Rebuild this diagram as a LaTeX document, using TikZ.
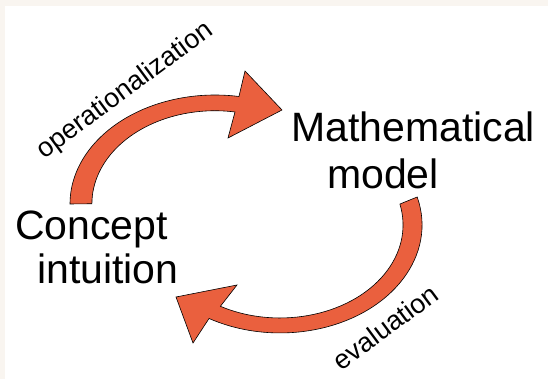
\documentclass[tikz,border=0pt]{standalone}
\usepackage{fontspec}
\setmainfont{Liberation Sans}
\definecolor{cream}{RGB}{249,245,240}
\definecolor{arrowred}{RGB}{234,96,62}
\begin{document}
\begin{tikzpicture}[x=1pt,y=1pt,
  bigtext/.style={font=\fontsize{41}{45}\selectfont, inner sep=0pt, anchor=base west},
  labeltext/.style={font=\fontsize{27}{30}\selectfont, inner sep=0pt, rotate=36.5},
  blockarrow/.style={fill=arrowred, draw=black, line width=0.6pt, line join=miter}]
\fill[cream] (0,0) rectangle (548,379);
\fill[white] (5,0) rectangle (548,373);
\useasboundingbox (0,0) rectangle (548,379);
% upper arrow: concept -> model
\path[blockarrow] (70,175) arc[start angle=180, end angle=80.5, x radius=145pt, y radius=109pt]
  -- (245,308) -- (282,269) -- (228,241) -- (235,267)
  arc[start angle=80.6, end angle=180, x radius=123pt, y radius=93pt] -- cycle;
% lower arrow: model -> concept
\path[blockarrow] (417.2,182) arc[start angle=15, end angle=-120, x radius=142pt, y radius=108pt]
  -- (193,36) -- (176,82) -- (237,94) -- (220.4,72.7)
  arc[start angle=-119, end angle=13, x radius=123pt, y radius=93pt] -- cycle;
% texts
\node[bigtext] (math1) at (291,237) {Mathematical};
\node[bigtext] (math2) at (327,190) {model};
\node[bigtext] (conc1) at (15,139) {Concept};
\node[bigtext] (conc2) at (37,95) {intuition};
\node[labeltext] (oplabel) at (125,288) {operationalization};
\node[labeltext] (evlabel) at (385,52) {evaluation};
\end{tikzpicture}
\end{document}
